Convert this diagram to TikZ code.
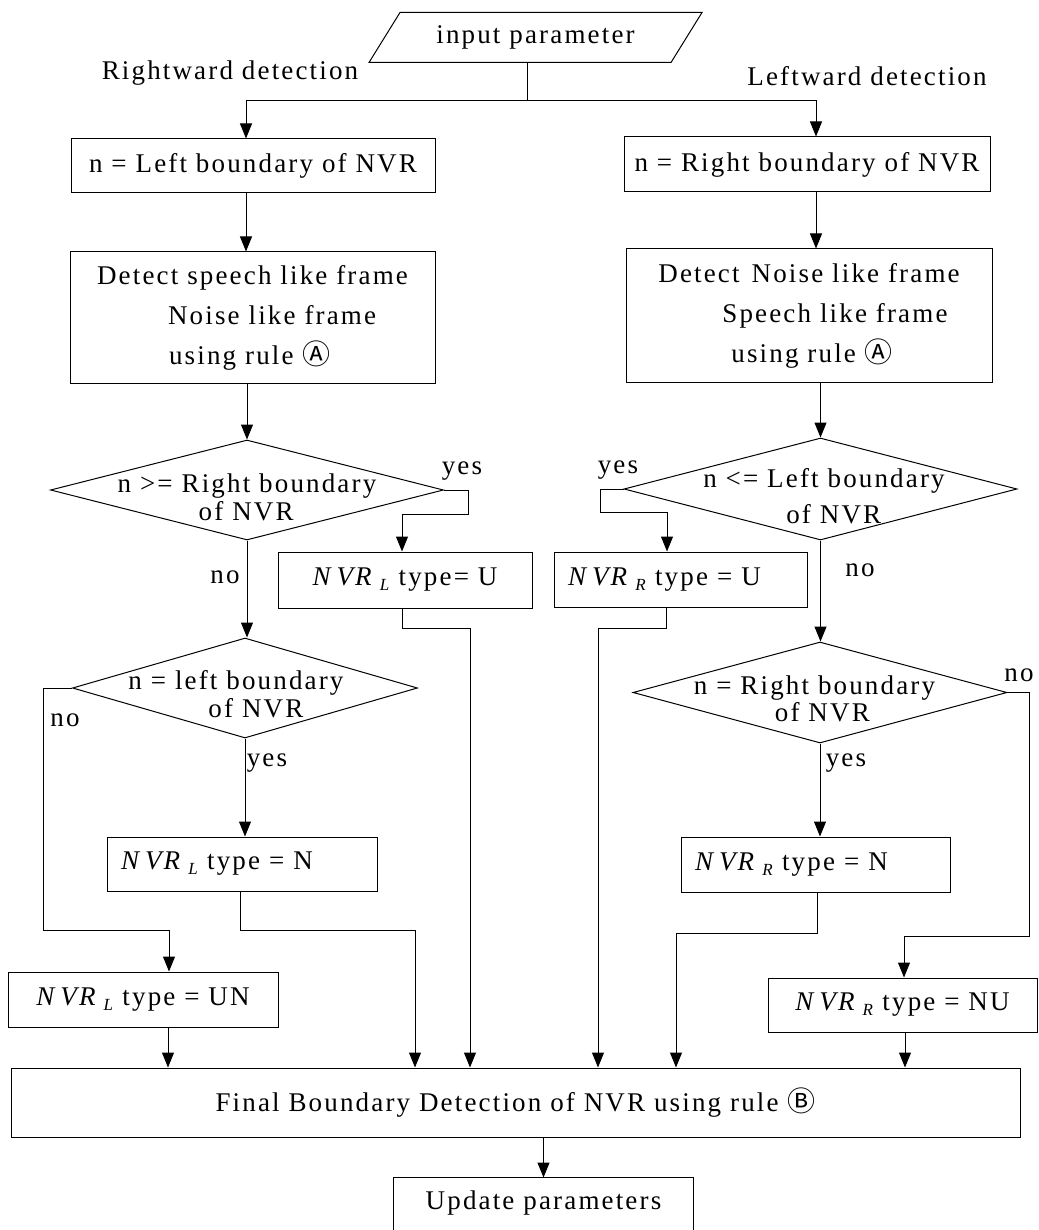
\documentclass[tikz,border=0pt]{standalone}
\usepackage{fontspec}
\setmainfont{Liberation Serif}[LetterSpace=8]
\newfontfamily\symfont{Noto Sans CJK SC}
\usetikzlibrary{arrows.meta,shapes.geometric,calc}
\newcommand{\circA}{{\symfont\fontsize{28}{28}\selectfont Ⓐ}}
\newcommand{\circB}{{\symfont\fontsize{28}{28}\selectfont Ⓑ}}
\newcommand{\nvr}[1]{\textit{N\kern6pt VR}\kern6pt\raisebox{-5pt}{\fontsize{17}{17}\selectfont\textit{#1}}}
\begin{document}
\begin{tikzpicture}[x=1pt,y=-1pt,
  font=\fontsize{27}{30}\selectfont,
  line width=1pt,
  arr/.style={-{Triangle[length=15pt,width=12pt]}},
  pbox/.style={draw, inner sep=0pt},
  lbox/.style={draw, inner xsep=14pt, inner ysep=0pt, align=left},
  dia/.style={draw, diamond, inner sep=0pt},
  lbl/.style={inner sep=0pt},
  dtxt/.style={inner sep=0pt, align=left, font=\fontsize{27}{28}\selectfont},
]
\clip (0,0) rectangle (1038,1230);

% input
\node[lbl, minimum width=270pt, minimum height=49pt] (inp) at (535.5,37.5) {input parameter};
\draw (inp.north west) -- ([xshift=31pt]inp.north east) -- (inp.south east) -- ([xshift=-31pt]inp.south west) -- cycle;
\coordinate (split) at (527,101);

\node[lbl] (lr) at (230,73) {Rightward detection};
\node[lbl] (ll) at (867,76) {Leftward detection};

% first boxes
\node[pbox, minimum width=364pt, minimum height=54pt] (b1) at (253,166) {n = Left boundary of NVR};
\node[pbox, minimum width=366pt, minimum height=55pt] (b2) at (807,164.5) {n = Right boundary of NVR};

% detect boxes
\node[pbox, minimum width=365pt, minimum height=131pt, align=left, font=\fontsize{27}{40}\selectfont] (b3) at (252.5,317.5)
  {Detect speech like frame\\\hspace*{71pt}Noise like frame\\\hspace*{72pt}using rule \circA};
\node[pbox, minimum width=366pt, minimum height=133pt, align=left, font=\fontsize{27}{40}\selectfont] (b4) at (809,315.5)
  {Detect\hspace{12pt}Noise like frame\\\hspace*{64pt}Speech like frame\\\hspace*{73pt}using rule \circA};

% diamonds
\node[dia, minimum width=393pt, minimum height=100pt] (d1) at (247,490) {};
\node[dtxt] (d1t) at (247,497) {n >= Right boundary\\\hspace*{81pt}of NVR};
\node[dia, minimum width=345pt, minimum height=100pt] (d2) at (245,688) {};
\node[dtxt] (d2t) at (236,694) {n = left boundary\\\hspace*{80pt}of NVR};
\node[dia, minimum width=393pt, minimum height=102pt] (d3) at (820.5,489) {};
\node[dtxt, font=\fontsize{27}{36}\selectfont] (d3t) at (824,496) {n <= Left boundary\\\hspace*{83pt}of NVR};
\node[dia, minimum width=374pt, minimum height=101pt] (d4) at (820,692.5) {};
\node[dtxt, font=\fontsize{27}{27}\selectfont] (d4t) at (814.5,698.5) {n = Right boundary\\\hspace*{81pt}of NVR};

% type boxes
\node[pbox, minimum width=254pt, minimum height=56pt] (bUL) at (405,580) {\nvr{L}\hspace{8pt}type= U};
\node[lbox, text width=225pt, minimum height=55pt] (bUR) at (680.5,579.5) {\nvr{R}\hspace{8pt}type = U};
\node[lbox, text width=242pt, minimum height=54pt] (bNL) at (242,864) {\nvr{L}\hspace{8pt}type = N};
\node[lbox, text width=241pt, minimum height=55pt] (bNR) at (815.5,864.5) {\nvr{R}\hspace{8pt}type = N};
\node[pbox, minimum width=270pt, minimum height=55pt] (bUN) at (143,999.5) {\nvr{L}\hspace{8pt}type = UN};
\node[pbox, minimum width=269pt, minimum height=54pt] (bNU) at (902.5,1005) {\nvr{R}\hspace{8pt}type = NU};

% final
\node[pbox, minimum width=1009pt, minimum height=69pt] (fb) at (515.5,1102.5) {Final Boundary Detection of NVR using rule \circB};
\node[lbl, minimum width=299pt, minimum height=50pt] (up) at (543.5,1203) {Update parameters};
\draw ([yshift=-20pt]up.south west) -- (up.north west) -- (up.north east) -- ([yshift=-20pt]up.south east);

% labels
\node[lbl] (y1) at (462,471) {yes};
\node[lbl] (n1) at (225,577) {no};
\node[lbl] (y3) at (618,470) {yes};
\node[lbl] (n3) at (860,570) {no};
\node[lbl] (n2) at (65,720) {no};
\node[lbl] (y2) at (267,763) {yes};
\node[lbl] (n4) at (1019,675) {no};
\node[lbl] (y4) at (846,763) {yes};

% connectors
\draw (inp.south -| split) -- (split);
\draw[arr] (split) -| ([xshift=-7pt]b1.north);
\draw[arr] (split) -| ([xshift=9pt]b2.north);
\draw[arr] ([xshift=-7pt]b1.south) -- ([xshift=-6.5pt]b3.north);
\draw[arr] ([xshift=9pt]b2.south) -- ([xshift=7pt]b4.north);
\draw[arr] (b3.south -| d1.north) -- (d1.north);
\draw[arr] (b4.south -| d3.north) -- (d3.north);

\draw[arr] (d1.east) -- ++(24,0) -- ++(0,24) -| ([xshift=-3pt]bUL.north);
\draw[arr] (d1.south) -- (d1.south |- d2.north);
\draw[arr] ([xshift=-3pt]bUL.south) -- ++(0,20) -| ([xshift=-45.5pt]fb.north);

\draw[arr] (d3.west) -- ++(-23,0) -- ++(0,23) -| ([xshift=-13.5pt]bUR.north);
\draw[arr] (d3.south) -- (d3.south |- d4.north);
\draw[arr] ([xshift=-14.5pt]bUR.south) -- ++(0,21) -| ([xshift=82.5pt]fb.north);

\draw[arr] (d2.south) -- (d2.south |- bNL.north);
\draw[arr] (d2.west) -- ++(-29,0) -- ++(0,242) -| ([xshift=26pt]bUN.north);
\draw[arr] ([xshift=-2pt]bNL.south) -- ++(0,39) -| ([xshift=-100.5pt]fb.north);
\draw[arr] ([xshift=25pt]bUN.south) -- ([xshift=25pt]bUN.south |- fb.north);

\draw[arr] (d4.south) -- (d4.south |- bNR.north);
\draw[arr] (d4.east) -- ++(22,0) -- ++(0,244) -| ([xshift=1.5pt]bNU.north);
\draw[arr] ([xshift=1.5pt]bNR.south) -- ++(0,41) -| ([xshift=160.5pt]fb.north);
\draw[arr] ([xshift=2.5pt]bNU.south) -- ([xshift=2.5pt]bNU.south |- fb.north);

\draw[arr] (fb.south -| up.north) -- (up.north);
\end{tikzpicture}
\end{document}
